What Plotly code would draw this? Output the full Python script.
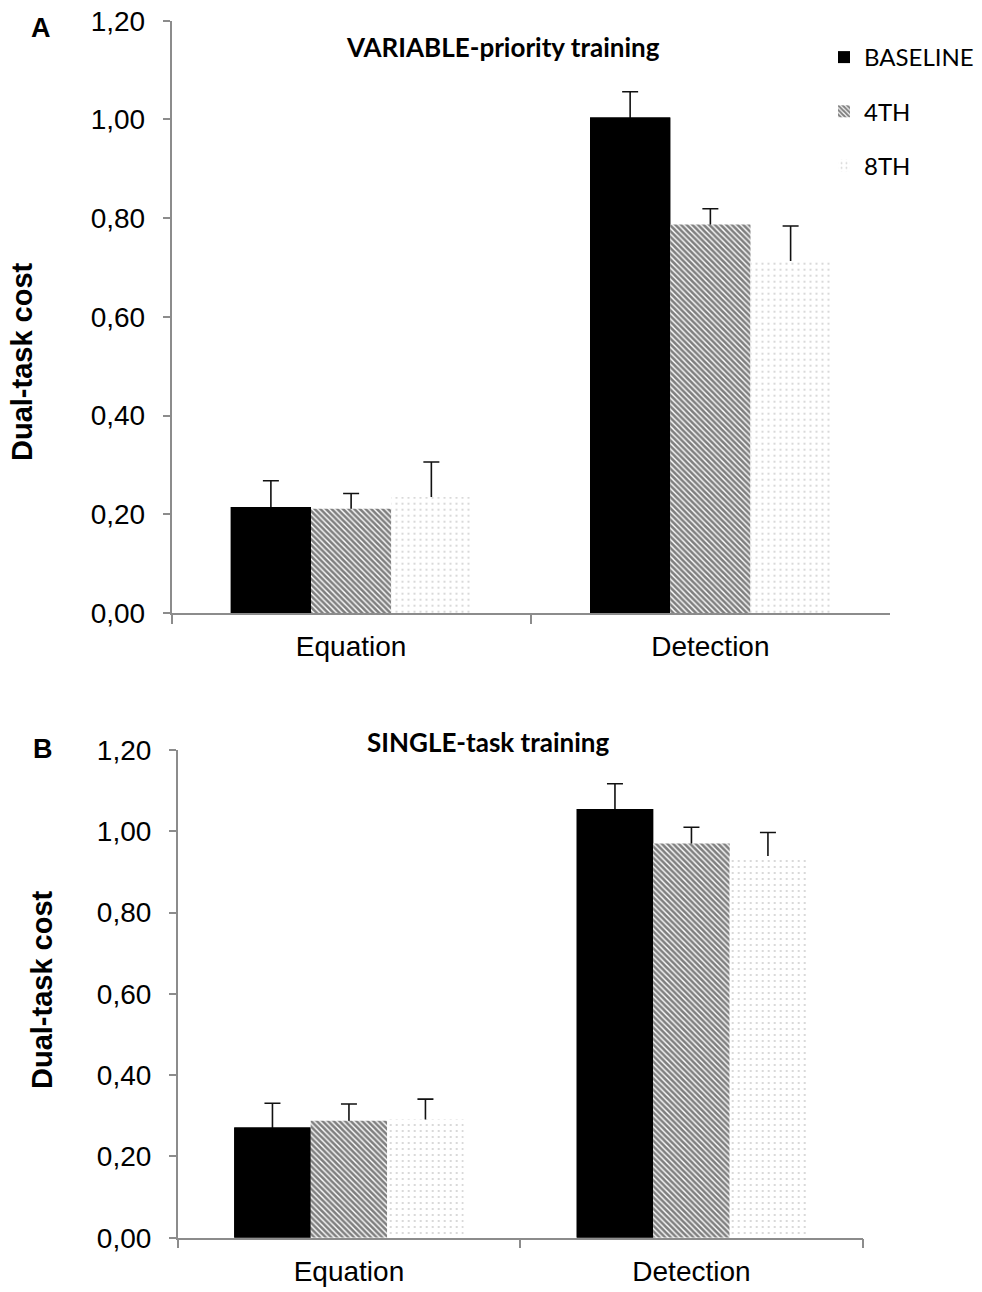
import plotly.graph_objects as go

# Task categories on the x axis
categories = ["Equation", "Detection"]
sessions = ["BASELINE", "4TH", "8TH"]

# Panel A: VARIABLE-priority training (mean dual-task cost and SE)
var_baseline = [0.215, 1.004]
var_4th = [0.211, 0.787]
var_8th = [0.235, 0.713]
var_baseline_err = [0.053, 0.052]
var_4th_err = [0.031, 0.032]
var_8th_err = [0.071, 0.071]

# Panel B: SINGLE-task training
sin_baseline = [0.271, 1.055]
sin_4th = [0.288, 0.970]
sin_8th = [0.291, 0.939]
sin_baseline_err = [0.060, 0.062]
sin_4th_err = [0.041, 0.040]
sin_8th_err = [0.050, 0.058]

y_ticks = [0, 0.2, 0.4, 0.6, 0.8, 1.0, 1.2]

W, H = 982, 1292

styles = {
    "BASELINE": dict(color="black",
                     pattern=dict(shape="")),
    "4TH": dict(color="white",
                pattern=dict(shape="\\", fgcolor="black", bgcolor="white",
                             size=4, solidity=0.65)),
    "8TH": dict(color="white",
                pattern=dict(shape=".", fgcolor="#a0a0a0", bgcolor="white",
                             size=6, solidity=0.1)),
}

panels = [
    ("x", "y", [var_baseline, var_4th, var_8th],
     [var_baseline_err, var_4th_err, var_8th_err], True),
    ("x2", "y2", [sin_baseline, sin_4th, sin_8th],
     [sin_baseline_err, sin_4th_err, sin_8th_err], False),
]

fig = go.Figure()

for xa, ya, vals, errs, show in panels:
    # Bars carrying the error bars (lower half is hidden by the overlay bars)
    for name, v, e in zip(sessions, vals, errs):
        fig.add_trace(go.Bar(
            x=categories, y=v, name=name, xaxis=xa, yaxis=ya,
            offsetgroup=name, showlegend=False, hoverinfo="skip",
            marker=dict(color=styles[name]["color"], line=dict(width=0)),
            error_y=dict(type="data", array=e, symmetric=True,
                         color="#111111", thickness=1.6, width=8),
        ))
    # Patterned bars drawn on top
    for name, v in zip(sessions, vals):
        fig.add_trace(go.Bar(
            x=categories, y=v, name=name, xaxis=xa, yaxis=ya,
            offsetgroup=name, legendgroup=name, showlegend=show,
            marker=dict(color=styles[name]["color"],
                        pattern=styles[name]["pattern"],
                        line=dict(width=0)),
        ))


def px_x(p):
    return p / W


def px_y(p):
    return 1 - p / H


axis_line = "#8c8c8c"
tick_font = dict(family="Liberation Sans, Arial, sans-serif", size=28, color="black")

common_x = dict(
    type="category", categoryorder="array", categoryarray=categories,
    showline=True, linecolor=axis_line, linewidth=1.5,
    ticks="outside", tickson="boundaries", ticklen=9, tickcolor=axis_line,
    tickwidth=1.5, tickfont=tick_font, showgrid=False, zeroline=False,
    ticklabelstandoff=8,
)
common_y = dict(
    range=[0, 1.2], tickvals=y_ticks, tickformat=".2f",
    showline=True, linecolor=axis_line, linewidth=1.5,
    ticks="outside", ticklen=7, tickcolor=axis_line, tickwidth=1.5,
    tickfont=tick_font, showgrid=False, zeroline=False,
    ticklabelstandoff=12,
)

fig.update_layout(
    width=W, height=H, autosize=False,
    margin=dict(l=0, r=0, t=0, b=0, pad=0, autoexpand=False),
    paper_bgcolor="white", plot_bgcolor="white",
    separators=",.",
    barmode="group", bargap=0.33, bargroupgap=0,
    xaxis=dict(common_x, domain=[px_x(171.5), px_x(890)], anchor="y"),
    yaxis=dict(common_y, domain=[px_y(613), px_y(20.7)], anchor="x"),
    xaxis2=dict(common_x, domain=[px_x(177.7), px_x(862.7)], anchor="y2"),
    yaxis2=dict(common_y, domain=[px_y(1237.7), px_y(750)], anchor="x2"),
    legend=dict(
        x=px_x(824), y=px_y(35), xanchor="left", yanchor="top",
        font=dict(family="Lato, sans-serif", size=24, color="black"),
        bgcolor="rgba(0,0,0,0)", tracegroupgap=20, traceorder="grouped",
    ),
    showlegend=True,
)

title_font = dict(family="Lato, sans-serif", size=26, color="black")
letter_font = dict(family="Liberation Sans, Arial, sans-serif", size=27, color="black")
ytitle_font = dict(family="Liberation Sans, Arial, sans-serif", size=29, color="black")

annotations = [
    dict(text="<b>VARIABLE-priority training</b>", x=px_x(503), y=px_y(47), font=title_font),
    dict(text="<b>SINGLE-task training</b>", x=px_x(488), y=px_y(742), font=title_font),
    dict(text="<b>A</b>", x=px_x(41), y=px_y(28), font=letter_font),
    dict(text="<b>B</b>", x=px_x(43), y=px_y(749), font=letter_font),
    dict(text="<b>Dual-task cost</b>", x=px_x(22), y=px_y(362), font=ytitle_font, textangle=-90),
    dict(text="<b>Dual-task cost</b>", x=px_x(42), y=px_y(990), font=ytitle_font, textangle=-90),
]
for a in annotations:
    fig.add_annotation(xref="paper", yref="paper", xanchor="center", yanchor="middle",
                       showarrow=False, **a)

fig.write_html("out.html")
